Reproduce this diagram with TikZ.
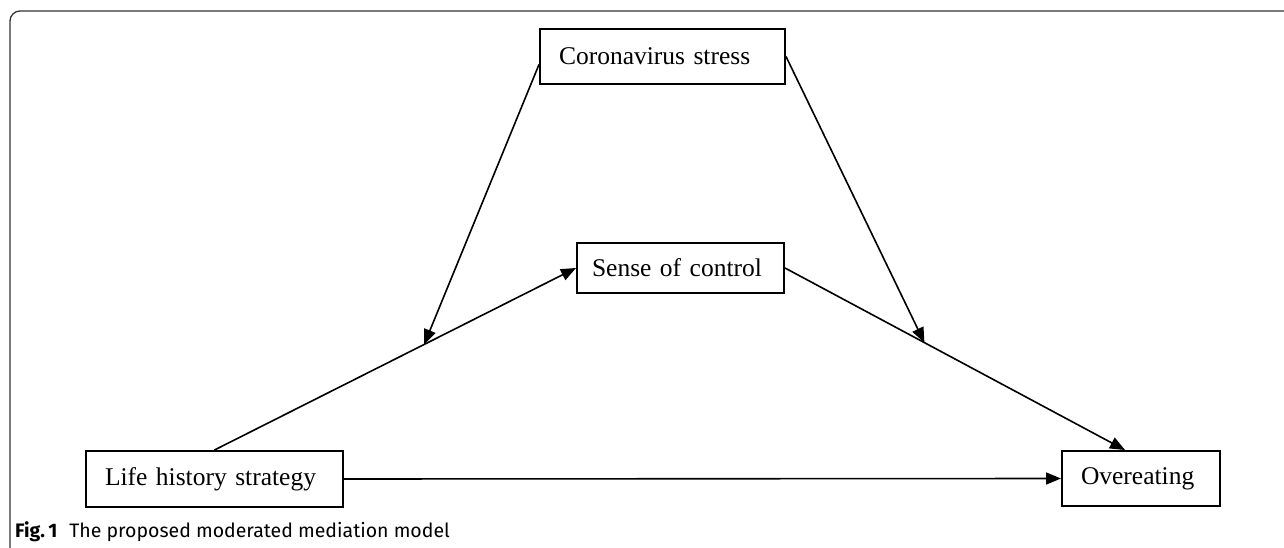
\documentclass[tikz,border=0pt]{standalone}
\usepackage{fontspec}
\setmainfont{Liberation Serif}
\newfontfamily\capfont{Fira Sans}
\usetikzlibrary{arrows.meta, positioning, calc}

\begin{document}
\begin{tikzpicture}[
    x=1pt, y=-1pt,
    block/.style={rectangle, draw, line width=2pt, inner xsep=19pt, inner ysep=0pt, align=left, font=\fontsize{25.5}{30}\selectfont},
    arrow/.style={line width=1.6pt, -{Triangle[length=15pt, width=12pt]}}
]
\clip (0,0) rectangle (1284,548);

% Frame
\draw [line width=1.3pt, black!80, rounded corners=10pt] (10,560) -- (10,11) -- (1300,11);

% Nodes
\node (stress) [block, text width=207pt, minimum height=55pt] at (662.5,56.5) {Coronavirus stress};
\node (sense) [block, inner xsep=15pt, text width=177pt, minimum height=50pt] at (680.5,268) {Sense of control};
\node (life) [block, text width=219pt, minimum height=56pt] at (214.5,479) {Life history strategy};
\node (eat) [block, text width=120pt, minimum height=55pt] at (1141,478.5) {Overeating};

% Arrows
\draw [arrow] (life.north) -- (sense.west);
\draw [arrow] (sense.east) -- ([xshift=-16pt]eat.north);
\draw [arrow] ([yshift=-8pt]stress.west) -- ($(life.north)!0.58!(sense.west)$);
\draw [arrow] (stress.east) -- ($(sense.east)!0.41!([xshift=-16pt]eat.north)$);
\draw [arrow] (life.east) -- (eat.west);

% Caption
\node (cap) [anchor=base west, inner sep=0pt, font=\capfont\fontsize{19.5}{22}\selectfont] at (15,537) {\textbf{Fig.\,1}\hspace{12pt}The proposed moderated mediation model};

\end{tikzpicture}
\end{document}
